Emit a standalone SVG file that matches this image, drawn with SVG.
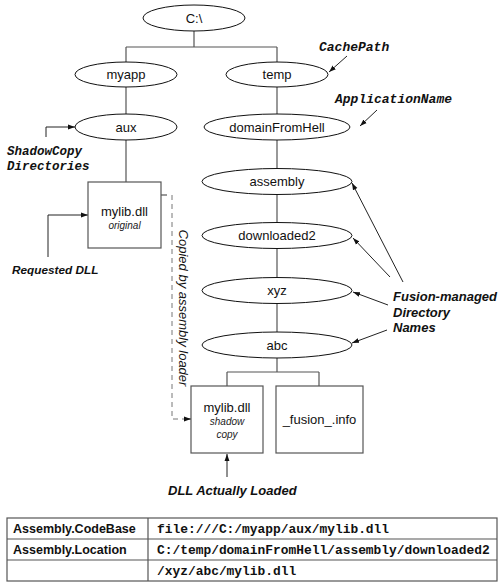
<svg xmlns="http://www.w3.org/2000/svg" width="500" height="582" viewBox="0 0 500 582">
<defs>
<marker id="ah" viewBox="0 0 10 10" refX="10" refY="5" markerWidth="7" markerHeight="7" orient="auto" markerUnits="userSpaceOnUse">
<path d="M0,1.5 L10,5 L0,8.5 z" fill="#111"/>
</marker>
<style>
.el{fill:#fff;stroke:#111;stroke-width:1}
.bx{fill:#fff;stroke:#555;stroke-width:1.2}
.ln{fill:none;stroke:#555;stroke-width:1.2}
.ar{fill:none;stroke:#222;stroke-width:1;marker-end:url(#ah)}
.dash{fill:none;stroke:#777;stroke-width:1;stroke-dasharray:5,4}
.t{font-family:"Liberation Sans",Arial,sans-serif;font-size:13px;fill:#111;text-anchor:middle}
.sm{font-family:"Liberation Sans",Arial,sans-serif;font-size:10px;font-style:italic;fill:#222;text-anchor:middle}
.bi{font-family:"Liberation Sans",Arial,sans-serif;font-size:13px;font-weight:bold;font-style:italic;fill:#111}
.mono{font-family:"Liberation Mono","Courier New",monospace;font-size:13px;font-weight:bold;font-style:italic;fill:#111}
.tb{font-family:"Liberation Sans",Arial,sans-serif;font-size:12.5px;font-weight:bold;fill:#111}
.tm{font-family:"Liberation Mono","Courier New",monospace;font-size:12.9px;font-weight:bold;fill:#111}
.tl{fill:none;stroke:#555;stroke-width:1.2}
</style>
</defs>

<g id="connectors">
<path class="ln" d="M194,31 V47 M126,47 H277 M126,47 V62 M277,47 V62"/>
<path class="ln" d="M126,87 V114 M126,140 V182"/>
<path class="ln" d="M277,87 V114 M277,140 V168 M277,195 V222 M277,249 V277 M277,304 V332 M277,358 V372 M227,372 H319 M227,372 V386 M319,372 V386"/>
<path class="ln" d="M161,195 H167"/>
<path class="dash" d="M172,195 V419 H187"/>
<path class="ar" d="M184,419 H191"/>
<path class="ar" d="M46,137 V127 H75"/>
<path class="ar" d="M48,257 V215 H88"/>
<path class="ar" d="M227,477 V454"/>
<path class="ar" d="M347,56 L329,72"/>
<path class="ar" d="M377,110 L360,126"/>
<path class="ar" d="M403,282 L352,183"/>
<path class="ar" d="M390,277 L353,238"/>
<path class="ar" d="M388,305 L353,292"/>
<path class="ar" d="M387,330 L352,343"/>
</g>

<g id="n-c"><ellipse class="el" cx="194" cy="18" rx="51" ry="13"/><text class="t" x="194" y="23">C:\</text></g>
<g id="n-myapp"><ellipse class="el" cx="126" cy="74.5" rx="51" ry="12.5"/><text class="t" x="126" y="79">myapp</text></g>
<g id="n-temp"><ellipse class="el" cx="277" cy="74.5" rx="51" ry="12.5"/><text class="t" x="277" y="79">temp</text></g>
<g id="n-aux"><ellipse class="el" cx="126" cy="127" rx="51" ry="13"/><text class="t" x="126" y="132">aux</text></g>
<g id="n-domain"><ellipse class="el" cx="277" cy="127" rx="73" ry="13"/><text class="t" x="277" y="132">domainFromHell</text></g>
<g id="n-assembly"><ellipse class="el" cx="277" cy="181.5" rx="75" ry="13"/><text class="t" x="277" y="186">assembly</text></g>
<g id="n-downloaded2"><ellipse class="el" cx="277" cy="235.5" rx="75" ry="13"/><text class="t" x="277" y="240">downloaded2</text></g>
<g id="n-xyz"><ellipse class="el" cx="277" cy="290.5" rx="75" ry="13"/><text class="t" x="277" y="295">xyz</text></g>
<g id="n-abc"><ellipse class="el" cx="277" cy="345" rx="75" ry="13"/><text class="t" x="277" y="350">abc</text></g>

<g id="n-original"><rect class="bx" x="88" y="182" width="73" height="66"/><text class="t" x="124.5" y="216">mylib.dll</text><text class="sm" x="124.5" y="229">original</text></g>
<g id="n-shadow"><rect class="bx" x="191" y="386" width="72" height="67"/><text class="t" x="227" y="412">mylib.dll</text><text class="sm" x="227" y="425">shadow</text><text class="sm" x="227" y="438">copy</text></g>
<g id="n-fusion"><rect class="bx" x="276" y="386" width="87" height="67"/><text class="t" x="319.5" y="424">_fusion_.info</text></g>

<g id="labels">
<text class="mono" x="7" y="155" style="font-size:12.5px">ShadowCopy</text>
<text class="mono" x="7" y="170" style="font-size:12.5px">Directories</text>
<text class="bi" x="12" y="274" style="font-size:11.8px">Requested DLL</text>
<text class="bi" x="168" y="495">DLL Actually Loaded</text>
<text class="mono" x="319" y="51">CachePath</text>
<text class="mono" x="335" y="103">ApplicationName</text>
<text class="bi" x="393" y="301">Fusion-managed</text>
<text class="bi" x="393" y="317">Directory</text>
<text class="bi" x="393" y="332">Names</text>
<text class="t" transform="translate(178.5,308) rotate(90)" style="font-style:italic">Copied by assembly loader</text>
</g>

<g id="table">
<rect class="tl" x="7" y="518" width="490" height="63"/>
<path class="tl" d="M148,518 V581 M7,539 H497 M7,560 H497"/>
<text class="tb" x="13" y="533">Assembly.CodeBase</text>
<text class="tb" x="13" y="554">Assembly.Location</text>
<text class="tm" x="157" y="533">file:///C:/myapp/aux/mylib.dll</text>
<text class="tm" x="157" y="554">C:/temp/domainFromHell/assembly/downloaded2</text>
<text class="tm" x="157" y="575">/xyz/abc/mylib.dll</text>
</g>
</svg>
